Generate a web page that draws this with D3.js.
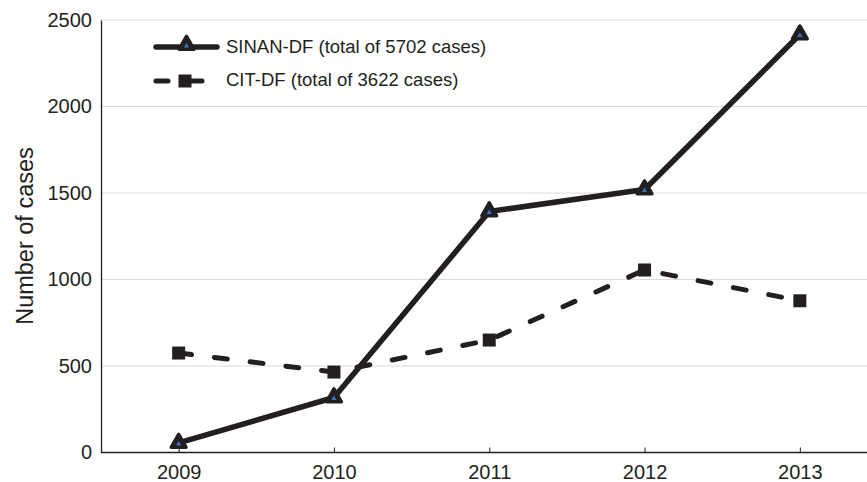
<!DOCTYPE html>
<html><head><meta charset="utf-8">
<script src="https://cdn.jsdelivr.net/npm/d3@7"></script>
<style>body{margin:0;background:#fff}svg{display:block;font-family:"Liberation Sans",Arial,sans-serif}</style>
</head><body>
<script>
const years = ["2009","2010","2011","2012","2013"];
const sinan = [55, 318, 1393, 1520, 2416];
const cit = [575, 465, 650, 1055, 877];
const yTicks = [0, 500, 1000, 1500, 2000, 2500];
const legendLabels = ["SINAN-DF (total of 5702 cases)", "CIT-DF (total of 3622 cases)"];
const yTitle = "Number of cases";

const W = 867, H = 482;
const FF = "Liberation Sans, Arial, sans-serif";
const svg = d3.select("body").append("svg").attr("width", W).attr("height", H);
const x = d3.scalePoint().domain(years).range([101, 877.5]).padding(0.5);
const y = d3.scaleLinear().domain([0, 2500]).range([452.5, 20]);
const ink = "#231f20";

// gridlines
svg.append("g").selectAll("line").data(yTicks.filter(d => d > 0)).join("line")
  .attr("x1", 101).attr("x2", W).attr("y1", d => y(d)).attr("y2", d => y(d))
  .attr("stroke", "#dcdcdc").attr("stroke-width", 1);

// y axis
const ya = svg.append("g").attr("transform", "translate(101,0)")
  .call(d3.axisLeft(y).tickValues(yTicks).tickFormat(d3.format("d")).tickSize(0).tickPadding(9));
ya.attr("font-size", 20).attr("font-family", FF);
ya.select(".domain").attr("stroke", ink).attr("stroke-width", 1.3);
ya.selectAll("text").attr("fill", ink);

// x axis
const xa = svg.append("g").attr("transform", `translate(0,${y(0)})`)
  .call(d3.axisBottom(x).tickSizeInner(-5).tickSizeOuter(0).tickPadding(12));
xa.attr("font-size", 20).attr("font-family", FF);
xa.select(".domain").attr("stroke", ink).attr("stroke-width", 1.3).attr("d", `M101,0H${W}`);
xa.selectAll(".tick line").attr("stroke", ink);
xa.selectAll("text").attr("fill", ink);

svg.append("text").attr("transform", `translate(33,236) rotate(-90)`)
  .attr("text-anchor", "middle").attr("font-size", 23.5).attr("fill", ink).text(yTitle);

const line = d3.line().x((d, i) => x(years[i])).y(d => y(d));

// CIT dashed
svg.append("path").datum(cit).attr("d", line).attr("fill", "none")
  .attr("stroke", ink).attr("stroke-width", 5).attr("stroke-dasharray", "13,23").attr("stroke-linecap", "round");
// SINAN solid
svg.append("path").datum(sinan).attr("d", line).attr("fill", "none")
  .attr("stroke", ink).attr("stroke-width", 5.5).attr("stroke-linejoin", "round");

const tri = d3.symbol().type(d3.symbolTriangle).size(95);
const triSmall = d3.symbol().type(d3.symbolTriangle).size(12);
function triangle(g, cx, cy) {
  g.append("path").attr("d", tri).attr("transform", `translate(${cx},${cy})`)
    .attr("fill", ink).attr("stroke", ink).attr("stroke-width", 3.5).attr("stroke-linejoin", "round");
  g.append("path").attr("d", triSmall).attr("transform", `translate(${cx},${cy + 1})`).attr("fill", "#3a6fc4");
}
function square(g, cx, cy) {
  g.append("rect").attr("x", cx - 6.5).attr("y", cy - 6.5).attr("width", 13).attr("height", 13).attr("fill", ink);
}

const mk = svg.append("g");
cit.forEach((v, i) => square(mk, x(years[i]), y(v)));
sinan.forEach((v, i) => triangle(mk, x(years[i]), y(v)));

// legend
const lg = svg.append("g");
lg.append("line").attr("x1", 156).attr("x2", 217).attr("y1", 47).attr("y2", 47)
  .attr("stroke", ink).attr("stroke-width", 5.5).attr("stroke-linecap", "round");
triangle(lg, 186.5, 45);
lg.append("line").attr("x1", 156).attr("x2", 208).attr("y1", 81).attr("y2", 81)
  .attr("stroke", ink).attr("stroke-width", 5).attr("stroke-dasharray", "12,22").attr("stroke-linecap", "round");
square(lg, 185, 81);
legendLabels.forEach((t, i) => {
  lg.append("text").attr("x", 226).attr("y", 47 + i * 33).attr("dy", "0.35em")
    .attr("font-size", 18.5).attr("fill", ink).text(t);
});
</script>
</body></html>
